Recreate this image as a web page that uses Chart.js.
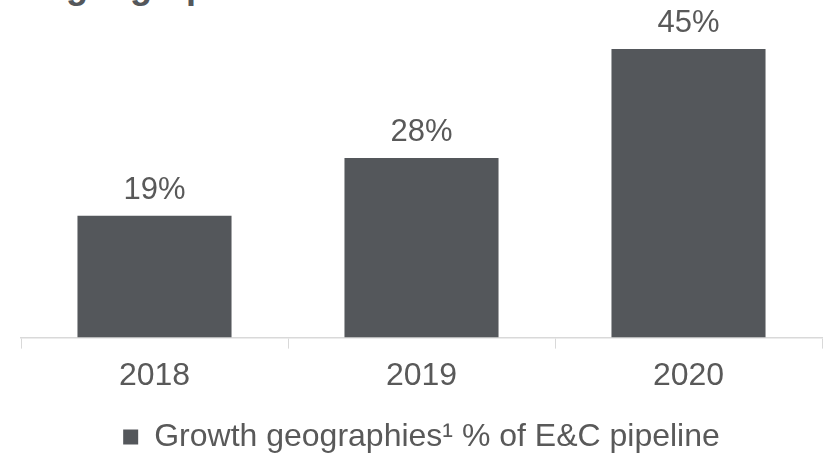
<!DOCTYPE html>
<html>
<head>
<meta charset="utf-8">
<script src="https://cdn.jsdelivr.net/npm/chart.js@4.4.1/dist/chart.umd.min.js"></script>
<style>
  html, body { margin: 0; padding: 0; background: #fff; }
  #wrap { position: relative; width: 823px; height: 455px; overflow: hidden; }
  #heading {
    position: absolute; left: 22px; top: -35px;
    font: bold 36px "Liberation Sans", Arial, sans-serif;
    color: #54575b; white-space: nowrap;
  }
  canvas { position: absolute; left: 0; top: 0; }
</style>
</head>
<body>
<div id="wrap">
  <div id="heading">of geographies</div>
  <canvas id="chart" width="823" height="455"></canvas>
</div>
<script>
// Share of E&C pipeline in growth geographies, by year
const years = ['2018', '2019', '2020'];
const growthShare = [19, 28, 45];
const seriesLabel = 'Growth geographies\u00B9 % of E&C pipeline';

const BAR_COLOR = '#54575b';
const TEXT_COLOR = '#595959';
const FONT = '"Liberation Sans", Arial, sans-serif';

// value labels above each bar
const valueLabels = {
    id: 'valueLabels',
    afterDatasetsDraw(chart) {
        const ctx = chart.ctx;
        const meta = chart.getDatasetMeta(0);
        ctx.save();
        ctx.font = '31px ' + FONT;
        ctx.fillStyle = TEXT_COLOR;
        ctx.textAlign = 'center';
        ctx.textBaseline = 'alphabetic';
        meta.data.forEach((bar, i) => {
            ctx.fillText(growthShare[i] + '%', bar.x, bar.y - 17);
        });
        ctx.restore();
    }
};

// push the legend a little lower once the layout is done
const legendNudge = {
    id: 'legendNudge',
    afterLayout(chart) {
        if (chart.legend) {
            chart.legend.top += 8;
            chart.legend.bottom += 8;
        }
    }
};

new Chart(document.getElementById('chart'), {
    type: 'bar',
    data: {
        labels: years,
        datasets: [{
            label: seriesLabel,
            data: growthShare,
            backgroundColor: BAR_COLOR,
            categoryPercentage: 1,
            barPercentage: 0.577
        }]
    },
    options: {
        responsive: false,
        animation: false,
        layout: { padding: { top: 49, left: 21, right: 1, bottom: 0 } },
        plugins: {
            legend: {
                position: 'bottom',
                labels: {
                    color: TEXT_COLOR,
                    font: { family: FONT, size: 32 },
                    boxWidth: 15,
                    boxHeight: 15,
                    padding: 2
                }
            },
            tooltip: { enabled: false }
        },
        scales: {
            x: {
                grid: {
                    drawOnChartArea: false,
                    drawTicks: true,
                    tickLength: 11,
                    color: '#d9d9d9'
                },
                border: { color: '#d9d9d9', width: 1.5 },
                ticks: {
                    color: TEXT_COLOR,
                    font: { family: FONT, size: 32 },
                    padding: 8
                },
                // extra room between the year labels and the legend
                afterFit(scale) { scale.height += 8; }
            },
            y: {
                display: false,
                min: 0,
                max: 45
            }
        }
    },
    plugins: [valueLabels, legendNudge]
});
</script>
</body>
</html>
